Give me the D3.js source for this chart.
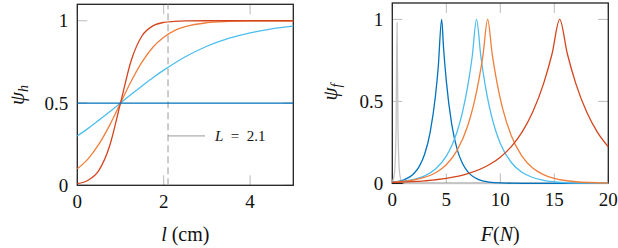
<!DOCTYPE html>
<html>
<head>
<meta charset="utf-8">
<script src="https://cdn.jsdelivr.net/npm/d3@7"></script>
<style>
body { margin: 0; background: #fff; }
text { font-family: "Liberation Serif", "DejaVu Serif", serif; fill: #111; }
</style>
</head>
<body>
<script>
var w = 618, h = 248;

// left panel: psi_h against l (cm)
var lGrid   = [0, 0.25, 0.5, 0.75, 1, 1.25, 1.5, 1.75, 2, 2.25, 2.5, 3, 3.5, 4, 4.5, 5];
var hBlue   = [0.30, 0.346, 0.396, 0.447, 0.5, 0.553, 0.604, 0.654, 0.70, 0.742, 0.781, 0.845, 0.893, 0.927, 0.951, 0.967];
var hOrange = [0.10, 0.161, 0.25, 0.366, 0.5, 0.634, 0.75, 0.839, 0.90, 0.94, 0.964, 0.988, 0.996, 0.999, 1, 1];
var hRed    = [0.01, 0.031, 0.091, 0.24, 0.5, 0.76, 0.909, 0.969, 0.99, 0.996, 0.999, 1, 1, 1, 1, 1];
var hFlat   = [0.5, 0.5];
var hFlatL  = [0, 5];
var markL   = 2.1;
var markY   = 0.3;

// right panel: psi_f against F(N), [F, value]
var fGray  = [[0,0.007],[0.2,0.062],[0.35,0.33],[0.44,0.98],[0.53,0.33],[0.68,0.062],[0.9,0.007],[1.2,0],[20,0]];
var fDark  = [[0,0.007],[1,0.02],[2,0.06],[2.5,0.104],[3,0.179],[3.5,0.31],[4,0.536],[4.25,0.705],[4.57,1],[4.75,0.821],[5,0.625],[5.5,0.362],[6,0.209],[6.5,0.121],[7,0.07],[8,0.023],[9,0.008],[10,0.003],[12,0.0003],[20,0]];
var fLight = [[0,0.007],[2,0.024],[3,0.046],[4,0.088],[5,0.166],[5.5,0.229],[6,0.315],[6.5,0.435],[7,0.599],[7.4,0.774],[7.8,1],[8.2,0.774],[8.6,0.599],[9,0.463],[9.5,0.336],[10,0.244],[11,0.129],[12,0.068],[13,0.036],[14,0.019],[16,0.005],[18,0.0015],[20,0.0004]];
var fOrange= [[0,0.007],[2,0.021],[4,0.065],[5,0.114],[6,0.201],[7,0.355],[7.5,0.471],[8,0.625],[8.4,0.784],[8.83,1],[9.25,0.788],[9.7,0.611],[10.2,0.46],[11,0.293],[12,0.166],[13,0.094],[14,0.054],[15,0.03],[17,0.01],[20,0.002]];
var fRed   = [[0,0.006],[3,0.0155],[5,0.03],[7,0.059],[9,0.115],[10,0.16],[11,0.223],[12,0.311],[13,0.435],[14,0.607],[14.8,0.792],[15.5,1],[16.2,0.792],[17,0.607],[18,0.435],[19,0.311],[20,0.223]];

var lTicks = [0, 2, 4];
var fTicks = [0, 5, 10, 15, 20];
var yTicks = [0, 0.5, 1];

var cDark = "#0072BD", cLight = "#4DBEEE", cOrange = "#F07F3C", cRed = "#D4451D", cGray = "#c4c4c4";

var svg = d3.select("body").append("svg")
	.attr("width", w)
	.attr("height", h);

function panel(x0, x1, y0, y1, xdom) {
	var x = d3.scaleLinear().domain(xdom).range([x0, x1]);
	var y = d3.scaleLinear().domain([0, 1.1]).range([y0, y1]);
	return {x: x, y: y, x0: x0, x1: x1, y0: y0, y1: y1};
}

function frame(p, xt, ytk, fmtY) {
	var g = svg.append("g");
	var tl = 10;
	xt.forEach(function(t){
		g.append("line").attr("x1", p.x(t)).attr("x2", p.x(t)).attr("y1", p.y0).attr("y2", p.y0 - tl).attr("stroke", "#bbb");
		g.append("line").attr("x1", p.x(t)).attr("x2", p.x(t)).attr("y1", p.y1).attr("y2", p.y1 + tl).attr("stroke", "#bbb");
		g.append("text").attr("x", p.x(t)).attr("y", p.y0 + 23).attr("text-anchor", "middle").style("font-size", "19px").text(t);
	});
	ytk.forEach(function(t){
		g.append("line").attr("x1", p.x0).attr("x2", p.x0 + tl).attr("y1", p.y(t)).attr("y2", p.y(t)).attr("stroke", "#bbb");
		g.append("line").attr("x1", p.x1).attr("x2", p.x1 - tl).attr("y1", p.y(t)).attr("y2", p.y(t)).attr("stroke", "#bbb");
		g.append("text").attr("x", p.x0 - 9).attr("y", p.y(t) + 6.5).attr("text-anchor", "end").style("font-size", "19px").text(fmtY(t));
	});
	g.append("rect").attr("x", p.x0).attr("y", p.y1).attr("width", p.x1 - p.x0).attr("height", p.y0 - p.y1)
		.attr("fill", "none").attr("stroke", "#222").attr("stroke-width", 1.3);
}

function fmt(t){ return t === 0.5 ? "0.5" : String(t); }

var L = panel(77.3, 293.3, 185.3, 4.3, [0, 5]);
var R = panel(392.3, 608.3, 183.4, 3, [0, 20]);

frame(L, lTicks, yTicks, fmt);
frame(R, fTicks, yTicks, fmt);

// left curves
var lineL = d3.line().x(function(d){ return L.x(d[0]); }).y(function(d){ return L.y(d[1]); }).curve(d3.curveMonotoneX);
function zipL(vals){ return lGrid.map(function(v, i){ return [v, vals[i]]; }); }

svg.append("line")
	.attr("x1", L.x(markL)).attr("x2", L.x(markL)).attr("y1", L.y0).attr("y2", L.y1)
	.attr("stroke", "#999").attr("stroke-width", 1).attr("stroke-dasharray", "7,4");
svg.append("line")
	.attr("x1", L.x(markL)).attr("x2", L.x(markL) + 37).attr("y1", L.y(markY)).attr("y2", L.y(markY))
	.attr("stroke", "#999").attr("stroke-width", 1);
var lab = svg.append("text").attr("x", L.x(markL) + 47).attr("y", L.y(markY) + 5)
	.style("font-size", "15px").style("white-space", "pre");
lab.append("tspan").style("font-style", "italic").text("L");
lab.append("tspan").text("  =  2.1");

[[hBlue, cLight], [hOrange, cOrange], [hRed, cRed]].forEach(function(s){
	svg.append("path").datum(zipL(s[0])).attr("d", lineL)
		.attr("fill", "none").attr("stroke", s[1]).attr("stroke-width", 1.3);
});
svg.append("path").datum(hFlatL.map(function(v, i){ return [v, hFlat[i]]; })).attr("d", lineL)
	.attr("fill", "none").attr("stroke", cDark).attr("stroke-width", 1.3);

// right curves
var lineR = d3.line().x(function(d){ return R.x(d[0]); }).y(function(d){ return R.y(d[1]); }).curve(d3.curveMonotoneX);
[[fGray, cGray], [fDark, cDark], [fLight, cLight], [fOrange, cOrange], [fRed, cRed]].forEach(function(s){
	svg.append("path").datum(s[0]).attr("d", lineR)
		.attr("fill", "none").attr("stroke", s[1]).attr("stroke-width", 1.3);
});

// axis titles
var xl = svg.append("text").attr("x", (L.x0 + L.x1) / 2).attr("y", 241).attr("text-anchor", "middle").style("font-size", "20px");
xl.append("tspan").style("font-style", "italic").text("l");
xl.append("tspan").text(" (cm)");

var xr = svg.append("text").attr("x", (R.x0 + R.x1) / 2).attr("y", 241).attr("text-anchor", "middle").style("font-size", "20px");
xr.append("tspan").style("font-style", "italic").text("F");
xr.append("tspan").text("(");
xr.append("tspan").style("font-style", "italic").text("N");
xr.append("tspan").text(")");

function ylab(cx, cy, sub) {
	var t = svg.append("text").attr("transform", "translate(" + cx + "," + cy + ") rotate(-90)")
		.attr("text-anchor", "middle").style("font-size", "21px");
	t.append("tspan").style("font-style", "italic").text("ψ");
	t.append("tspan").style("font-style", "italic").style("font-size", "14px").attr("dy", 4).text(sub);
}
ylab(24, 95, "h");
ylab(337, 92, "f");
</script>
</body>
</html>
